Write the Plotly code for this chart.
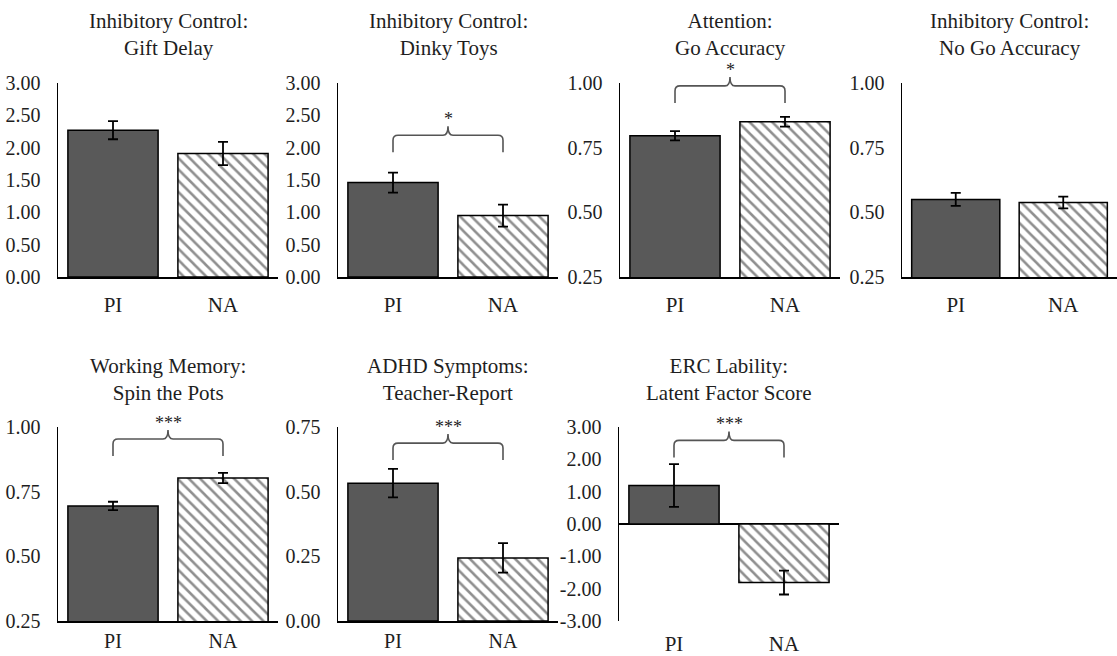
import plotly.graph_objects as go

# ---------------- data ----------------
groups = ["PI", "NA"]
titles = [
    "Inhibitory Control:<br>Gift Delay",
    "Inhibitory Control:<br>Dinky Toys",
    "Attention:<br>Go Accuracy",
    "Inhibitory Control:<br>No Go Accuracy",
    "Working Memory:<br>Spin the Pots",
    "ADHD Symptoms:<br>Teacher-Report",
    "ERC Lability:<br>Latent Factor Score",
]
means_pi = [2.27, 1.46, 0.796, 0.550, 0.695, 0.533, 1.19]
means_na = [1.91, 0.95, 0.850, 0.538, 0.803, 0.244, -1.81]
se_pi = [0.14, 0.155, 0.018, 0.025, 0.016, 0.055, 0.66]
se_na = [0.18, 0.170, 0.019, 0.023, 0.020, 0.057, 0.37]
y_ranges = [[0, 3], [0, 3], [0.25, 1], [0.25, 1], [0.25, 1], [0, 0.75], [-3, 3]]
tick_vals = [
    [0, 0.5, 1, 1.5, 2, 2.5, 3],
    [0, 0.5, 1, 1.5, 2, 2.5, 3],
    [0.25, 0.5, 0.75, 1.0],
    [0.25, 0.5, 0.75, 1.0],
    [0.25, 0.5, 0.75, 1.0],
    [0, 0.25, 0.5, 0.75],
    [-3, -2, -1, 0, 1, 2, 3],
]
tick_text = [
    ["0.00", "0.50", "1.00", "1.50", "2.00", "2.50", "3.00"],
    ["0.00", "0.50", "1.00", "1.50", "2.00", "2.50", "3.00"],
    ["0.25", "0.50", "0.75", "1.00"],
    ["0.25", "0.50", "0.75", "1.00"],
    ["0.25", "0.50", "0.75", "1.00"],
    ["0.00", "0.25", "0.50", "0.75"],
    ["-3.00", "-2.00", "-1.00", "0.00", "1.00", "2.00", "3.00"],
]
sig_labels = [None, "*", "*", None, "***", "***", "***"]
sig_y = [None, 1.93, 0.923, None, 0.888, 0.622, 2.06]

# ---------------- layout (pixels) ----------------
W, H = 1117, 656
x_dom_px = [(58, 278), (338, 558), (620, 840), (902, 1117), (58, 278), (338, 558), (619, 839)]
y_dom_px = [(83, 277)] * 4 + [(427, 621)] * 3
title_y_px = [35] * 4 + [379] * 3
xlabel_standoff = [8, 8, 8, 8, 1, 1, 8]
xlabel_size = [21, 21, 21, 21, 20, 20, 21]

FONT = "Liberation Serif"
TXT = "#1e1e1e"
PI_COLOR = "#595959"
HATCH = "#8f8f8f"
BRACKET = "#555555"

fig = go.Figure()
layout = dict(
    width=W, height=H,
    margin=dict(l=0, r=0, t=0, b=0, autoexpand=False),
    paper_bgcolor="white", plot_bgcolor="white",
    showlegend=False,
    font=dict(family=FONT, size=20, color=TXT),
)
annotations = []
shapes = []


def py_of(i, v):
    lo, hi = y_ranges[i]
    top, bot = y_dom_px[i]
    return bot - (v - lo) / (hi - lo) * (bot - top)


def px_of(i, v):
    left, right = x_dom_px[i]
    return left + (v + 0.5) / 2.0 * (right - left)


def P(xp, yp):
    return f"{xp / W:.5f},{1 - yp / H:.5f}"


for i in range(7):
    n = "" if i == 0 else str(i + 1)
    xa, ya = "x" + n, "y" + n
    fig.add_trace(go.Bar(
        x=[0], y=[means_pi[i]], xaxis=xa, yaxis=ya, width=0.82,
        marker=dict(color=PI_COLOR, line=dict(color="black", width=1.5)),
        error_y=dict(type="data", array=[se_pi[i]], color="black", thickness=1.8, width=5),
        hoverinfo="skip",
    ))
    fig.add_trace(go.Bar(
        x=[1], y=[means_na[i]], xaxis=xa, yaxis=ya, width=0.82,
        marker=dict(color="white", line=dict(color="black", width=1.5),
                    pattern=dict(shape="\\", size=8, solidity=0.32,
                                 fgcolor=HATCH, bgcolor="white")),
        error_y=dict(type="data", array=[se_na[i]], color="black", thickness=1.8, width=5),
        hoverinfo="skip",
    ))
    xd = [x_dom_px[i][0] / W, x_dom_px[i][1] / W]
    yd = [1 - y_dom_px[i][1] / H, 1 - y_dom_px[i][0] / H]
    is_neg = y_ranges[i][0] < 0
    layout["xaxis" + n] = dict(
        domain=xd, anchor=ya, range=[-0.5, 1.5], automargin=False,
        tickvals=[0, 1], ticktext=groups,
        tickfont=dict(size=xlabel_size[i], color=TXT),
        showline=not is_neg, linecolor="black", linewidth=1.5,
        showgrid=False, zeroline=False, ticks="", ticklabelstandoff=xlabel_standoff[i],
        fixedrange=True,
    )
    layout["yaxis" + n] = dict(
        domain=yd, anchor=xa, range=y_ranges[i], automargin=False,
        tickvals=tick_vals[i], ticktext=tick_text[i], tickfont=dict(size=20, color=TXT),
        showline=True, linecolor="black", linewidth=1.5,
        showgrid=False, ticks="", ticklabelstandoff=12,
        zeroline=is_neg, zerolinecolor="black", zerolinewidth=1.5,
        fixedrange=True,
    )
    # title
    annotations.append(dict(
        text=titles[i], xref="paper", yref="paper",
        x=(x_dom_px[i][0] + x_dom_px[i][1]) / 2 / W, y=1 - title_y_px[i] / H,
        xanchor="center", yanchor="middle", showarrow=False,
        font=dict(size=21, color=TXT, family=FONT),
    ))
    # significance bracket
    if sig_labels[i]:
        x0, x1 = px_of(i, 0), px_of(i, 1)
        xm = (x0 + x1) / 2
        yb = py_of(i, sig_y[i])
        yh = yb - 17
        yp = yh - 9
        r = 5
        path = (f"M {P(x0, yb)} L {P(x0, yh + r)} Q {P(x0, yh)} {P(x0 + r, yh)} "
                f"L {P(xm - r, yh)} Q {P(xm, yh)} {P(xm, yp)} "
                f"Q {P(xm, yh)} {P(xm + r, yh)} L {P(x1 - r, yh)} "
                f"Q {P(x1, yh)} {P(x1, yh + r)} L {P(x1, yb)}")
        shapes.append(dict(type="path", path=path, xref="paper", yref="paper",
                           line=dict(color=BRACKET, width=1.6)))
        annotations.append(dict(
            text=sig_labels[i], xref="paper", yref="paper",
            x=xm / W, y=1 - (yp + 5) / H, xanchor="center", yanchor="bottom",
            showarrow=False, font=dict(size=18, color=TXT, family=FONT),
        ))

layout["annotations"] = annotations
layout["shapes"] = shapes
layout["template"] = "none"
fig.update_layout(**layout)
fig.write_html(
    "out.html",
    config={"displayModeBar": False, "staticPlot": True},
    post_script="document.body.style.margin='0';document.body.style.overflow='hidden';",
)
